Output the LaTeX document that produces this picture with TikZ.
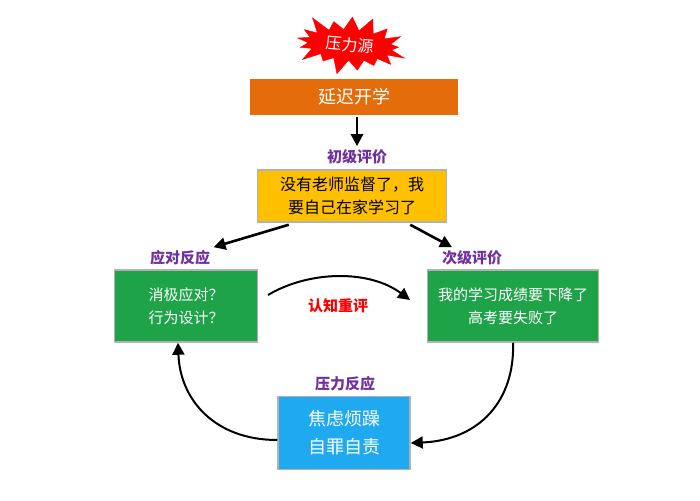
\documentclass[tikz,border=0pt]{standalone}
\usepackage{fontspec}
\setmainfont{Noto Sans CJK SC}
\usetikzlibrary{shapes.symbols,arrows.meta}
\definecolor{orng}{HTML}{E46C0A}
\definecolor{yel}{HTML}{FFC000}
\definecolor{grn}{HTML}{1FA349}
\definecolor{blu}{HTML}{1FA9F0}
\definecolor{purp}{HTML}{7030A0}
\begin{document}
\begin{tikzpicture}[x=1pt,y=-1pt,
  box/.style={draw=gray!60,line width=1.5pt,minimum width=#1,align=center,inner sep=2pt},
  lab/.style={text=purp,font=\fontsize{15}{17}\selectfont\bfseries},
  arr/.style={-{Triangle[length=12pt,width=12pt]},line width=2.6pt}]
\useasboundingbox (0,0) rectangle (700,500);
\node[starburst,starburst points=17,starburst point height=18pt,fill=red,draw=red,minimum width=120pt,minimum height=56pt,text=white,font=\fontsize{16}{18}\selectfont,rotate=-5] (src) at (350,45) {压力源};
\node[fill=orng,minimum width=208pt,minimum height=35pt,text=white,font=\fontsize{18}{20}\selectfont] (org) at (354,97) {延迟开学};
\node[lab] (l1) at (357,157) {初级评价};
\node[box=189pt,fill=yel,minimum height=52pt,font=\fontsize{16}{23}\selectfont] (yb) at (352,196) {没有老师监督了，我\\要自己在家学习了};
\node[lab] (l2) at (180,258) {应对反应};
\node[lab] (l3) at (472,258) {次级评价};
\node[box=143pt,fill=grn,minimum height=72pt,text=white,font=\fontsize{15}{23}\selectfont] (gl) at (186,306) {消极应对？\\行为设计？};
\node[box=171pt,fill=grn,minimum height=72pt,text=white,font=\fontsize{15}{23}\selectfont] (gr) at (513,306) {我的学习成绩要下降了\\高考要失败了};
\node[text=red,font=\fontsize{15}{17}\selectfont\bfseries] (l4) at (338,306) {认知重评};
\node[lab] (l5) at (345,384) {压力反应};
\node[box=132pt,fill=blu,minimum height=73pt,text=white,font=\fontsize{18}{28}\selectfont] (bb) at (344,433) {焦虑烦躁\\自罪自责};
\draw[arr] (org.south -| l1) ++(0,2) -- (l1.north);
\draw[arr] (yb.south west) ++(32,2) coordinate (a1) -- (l2.north east);
\draw[arr] (yb.south east) ++(-37,2) coordinate (a2) -- ([xshift=-20pt]l3.north);
\coordinate (c1) at (268,295);
\coordinate (c2) at (410,300);
\draw[arr,line width=2pt] (c1) .. controls (310,270) and (370,270) .. (c2);
\draw[arr,line width=2pt] (gr.south) .. controls (515,400) and (480,440) .. (bb.east |- 0,443);
\draw[arr,line width=2pt] (bb.west |- 0,440) .. controls (215,440) and (180,400) .. ([xshift=-8pt]gl.south);
\end{tikzpicture}
\end{document}
